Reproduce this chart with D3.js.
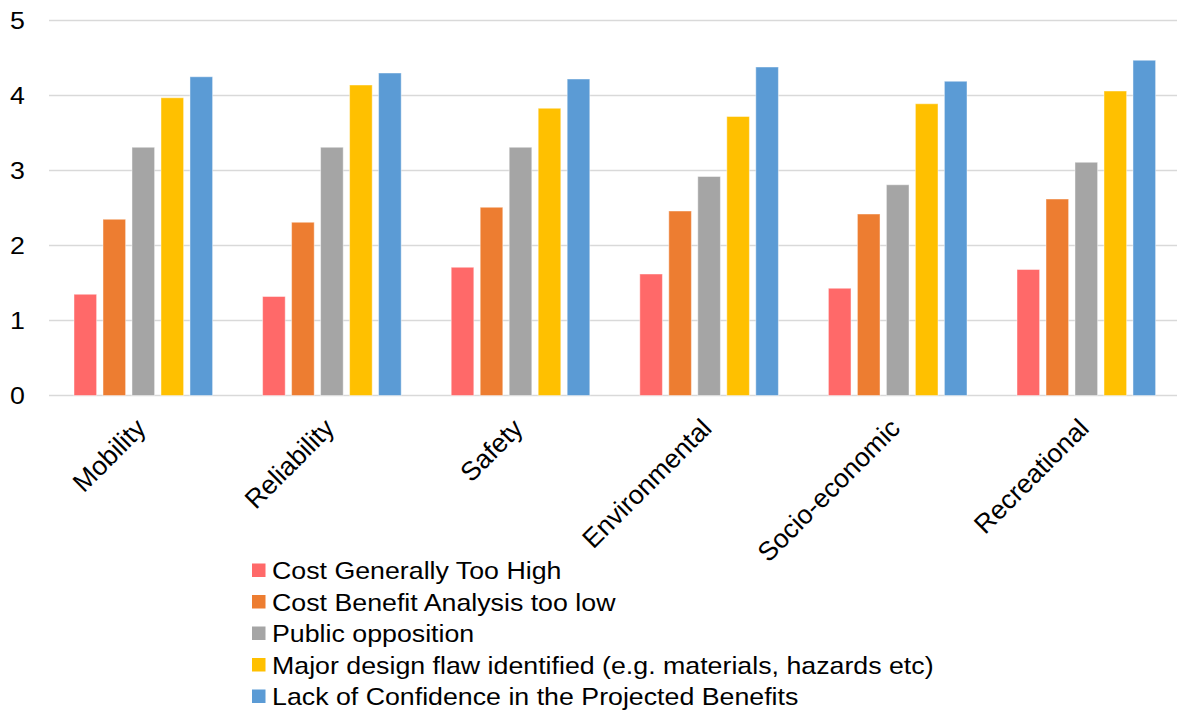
<!DOCTYPE html>
<html><head><meta charset="utf-8">
<script src="https://cdn.jsdelivr.net/npm/d3@7"></script>
<style>body{margin:0;background:#fff}svg{display:block}text{font-family:"Liberation Sans",Arial,sans-serif}</style>
</head><body>
<svg id="c" width="1177" height="711"></svg>
<script>
const categories = ["Mobility","Reliability","Safety","Environmental","Socio-economic","Recreational"];
const seriesNames = ["Cost Generally Too High","Cost Benefit Analysis too low","Public opposition","Major design flaw identified (e.g. materials, hazards etc)","Lack of Confidence in the Projected Benefits"];
const costTooHigh = [1.35,1.32,1.71,1.62,1.43,1.68];
const cbaTooLow = [2.35,2.31,2.51,2.46,2.42,2.62];
const publicOpposition = [3.31,3.31,3.31,2.92,2.81,3.11];
const designFlaw = [3.97,4.14,3.83,3.72,3.89,4.06];
const lackConfidence = [4.25,4.30,4.22,4.38,4.19,4.47];
const yTicks = [0,1,2,3,4,5];
const colors = ["#FF6969","#ED7D31","#A5A5A5","#FFC000","#5B9BD5"];

const SX = 1.115; // horizontal stretch of text seen in the reference
const seriesValues = [costTooHigh, cbaTooLow, publicOpposition, designFlaw, lackConfidence];
const svg = d3.select("#c");
const x0 = d3.scaleBand().domain(categories).range([49, 1180.6]).paddingInner(0).paddingOuter(0);
const gw = x0.bandwidth();
const x1 = d3.scaleBand().domain(d3.range(5)).range([25, gw-25]).paddingInner(0.22).paddingOuter(0);
const y = d3.scaleLinear().domain([0,5]).range([395.5, 20.5]);

// gridlines
svg.append("g").selectAll("line").data(yTicks).join("line")
  .attr("x1",49).attr("x2",1177).attr("y1",d=>y(d)).attr("y2",d=>y(d))
  .attr("stroke","#d9d9d9").attr("stroke-width",1.5);

// y axis labels
const yAxis = d3.axisLeft(y).tickValues(yTicks).tickFormat(d3.format("d")).tickSize(0).tickPadding(0);
const ya = svg.append("g").attr("transform","translate(25,0)").call(yAxis);
ya.select(".domain").remove();
ya.selectAll("text").attr("font-size",24).attr("fill","#000").attr("dy","0.35em")
  .attr("transform",`scale(${SX},1)`).attr("x",0)
  .style("font-family","Liberation Sans, Arial, sans-serif");

// bars
const groups = svg.append("g").selectAll("g").data(categories).join("g")
  .attr("transform",c=>`translate(${x0(c)},0)`);
groups.selectAll("rect").data((c,i)=>seriesValues.map((s,k)=>({k, v:s[i]}))).join("rect")
  .attr("x",d=>x1(d.k)).attr("width",x1.bandwidth())
  .attr("y",d=>y(d.v)).attr("height",d=>y(0)-y(d.v))
  .attr("fill",d=>colors[d.k]).attr("stroke","rgba(255,255,255,0.45)").attr("stroke-width",1);

// x labels
svg.append("g").selectAll("text").data(categories).join("text")
  .attr("transform",c=>`translate(${x0(c)+gw/2+4},${430}) rotate(-45)`)
  .attr("text-anchor","end").attr("font-size",26.5).attr("fill","#000").text(c=>c);

// legend
const leg = svg.append("g").selectAll("g").data(seriesNames).join("g")
  .attr("transform",(d,i)=>`translate(252,${570.5+i*31.5})`);
leg.append("rect").attr("x",0).attr("y",-7).attr("width",13.5).attr("height",13.5).attr("fill",(d,i)=>colors[i]);
leg.append("text").attr("transform",`translate(20,8.5) scale(${SX},1)`).attr("font-size",24).attr("fill","#000").text(d=>d);
</script>
</body></html>
